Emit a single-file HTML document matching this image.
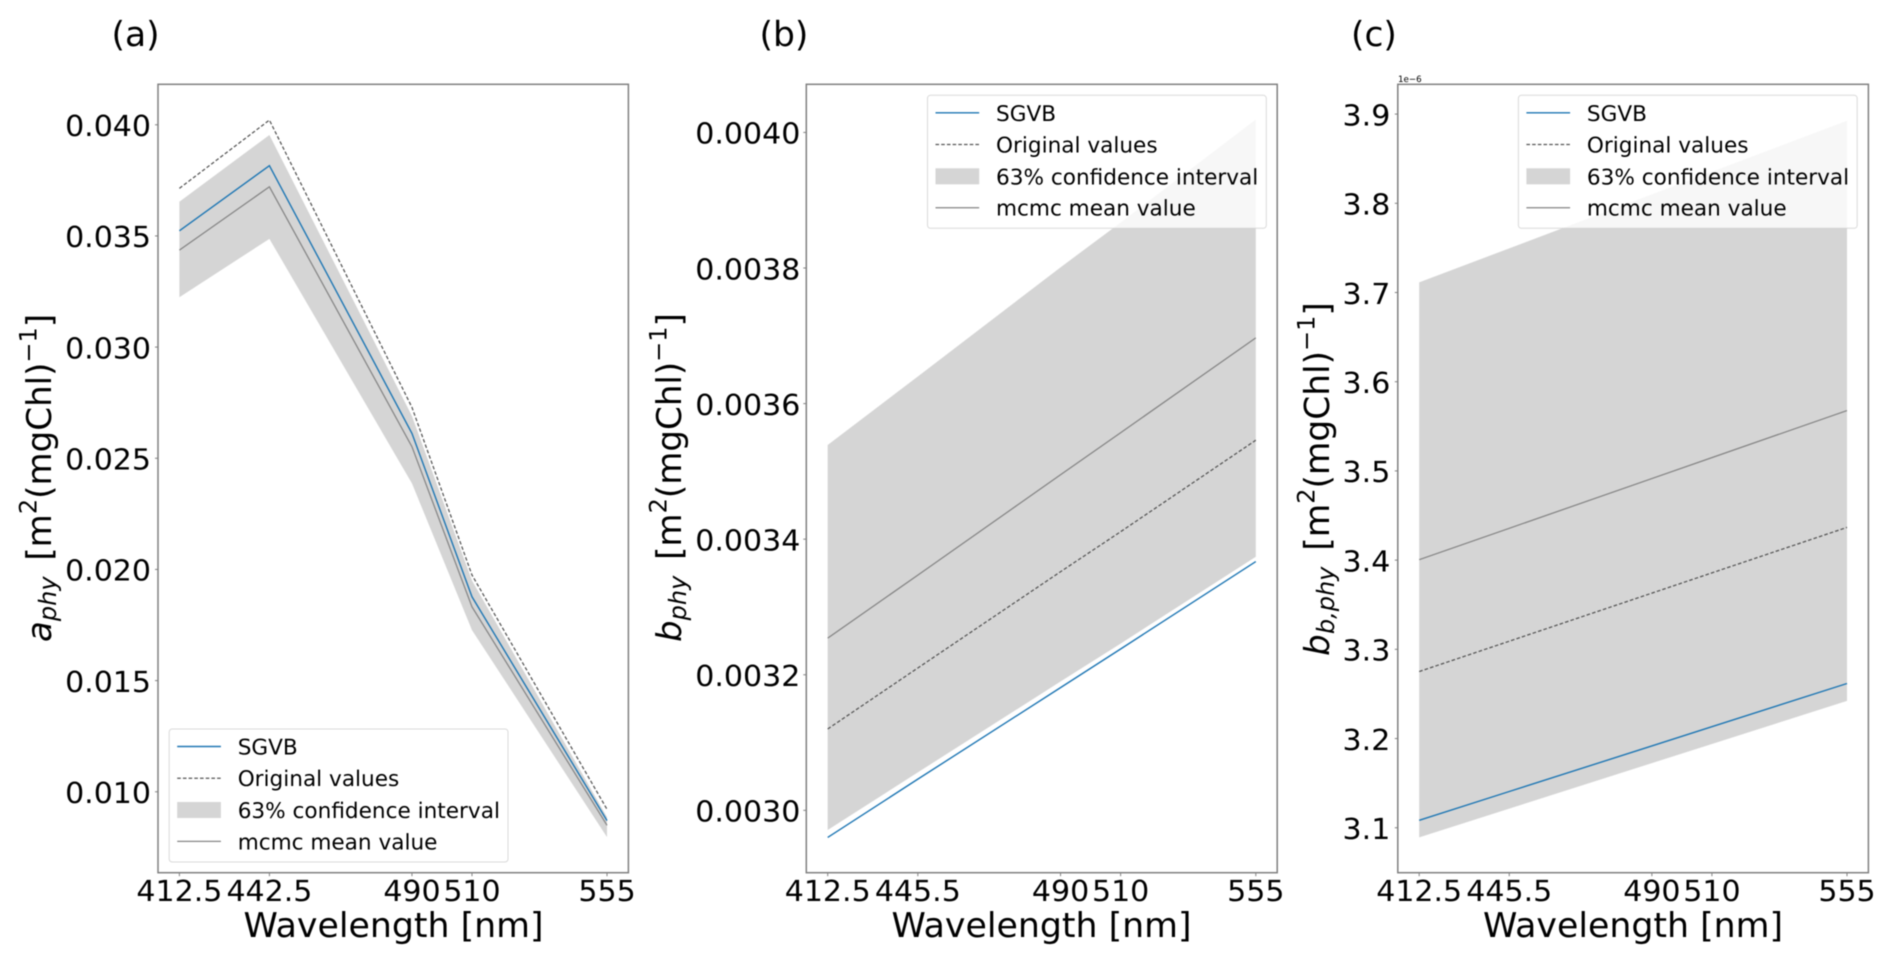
<!DOCTYPE html>
<html lang="en">
<head>
<meta charset="utf-8">
<title>Wavelength spectra of phytoplankton coefficients</title>
<style>
  html, body { margin: 0; padding: 0; background: #fff; }
  body { width: 1892px; height: 964px; overflow: hidden; }
  svg { display: block; filter: blur(0.4px); }
  text { font-family: "DejaVu Sans", "Liberation Sans", sans-serif; fill: #000; text-rendering: geometricPrecision; }
</style>
</head>
<body>
<svg id="figure" xmlns="http://www.w3.org/2000/svg" width="1892" height="964" viewBox="0 0 1892 964">
  <rect x="0" y="0" width="1892" height="964" fill="#fff"/>
  <g id="panel-a"></g>
  <g id="panel-b"></g>
  <g id="panel-c"></g>

  <text x="111.5" y="46" font-size="34.5">(a)</text>
  <text x="759.5" y="46" font-size="34.5">(b)</text>
  <text x="1351" y="46" font-size="34.5">(c)</text>

  <text transform="translate(51,642) rotate(-90)" font-size="34.1"><tspan font-style="italic">a</tspan><tspan font-style="italic" font-size="24" dy="5">phy</tspan><tspan dy="-5" dx="5"> [m</tspan><tspan font-size="24" dy="-14.5">2</tspan><tspan dy="14.5">(mgChl)</tspan><tspan font-size="24" dy="-14.5">−1</tspan><tspan dy="14.5">]</tspan></text>
  <text transform="translate(681,642) rotate(-90)" font-size="34.1"><tspan font-style="italic">b</tspan><tspan font-style="italic" font-size="24" dy="5">phy</tspan><tspan dy="-5" dx="5"> [m</tspan><tspan font-size="24" dy="-14.5">2</tspan><tspan dy="14.5">(mgChl)</tspan><tspan font-size="24" dy="-14.5">−1</tspan><tspan dy="14.5">]</tspan></text>
  <text transform="translate(1329,656) rotate(-90)" font-size="34.4"><tspan font-style="italic">b</tspan><tspan font-style="italic" font-size="24" dy="5">b,phy</tspan><tspan dy="-5" dx="5"> [m</tspan><tspan font-size="24" dy="-14.5">2</tspan><tspan dy="14.5">(mgChl)</tspan><tspan font-size="24" dy="-14.5">−1</tspan><tspan dy="14.5">]</tspan></text>

  <text transform="translate(393.5,937) scale(1.016,1)" font-size="34.2" text-anchor="middle">Wavelength [nm]</text>
  <text transform="translate(1041.5,937) scale(1.016,1)" font-size="34.2" text-anchor="middle">Wavelength [nm]</text>
  <text transform="translate(1633,937) scale(1.016,1)" font-size="34.2" text-anchor="middle">Wavelength [nm]</text>

  <text x="1398" y="82" font-size="8.7">1e−6</text>
</svg>

<script>
const wavelengths = [412.5, 442.5, 490, 510, 555];
const xTickLabelsA = ["412.5", "442.5", "490", "510", "555"];
const xTickLabelsB = ["412.5", "445.5", "490", "510", "555"];
const xTickLabelsC = ["412.5", "445.5", "490", "510", "555"];

const yTicksA = [0.010, 0.015, 0.020, 0.025, 0.030, 0.035, 0.040];
const yTickLabelsA = ["0.010", "0.015", "0.020", "0.025", "0.030", "0.035", "0.040"];
const sgvbA = [0.03523, 0.03816, 0.02612, 0.01877, 0.00870];
const originalA = [0.03714, 0.04021, 0.02729, 0.01975, 0.00921];
const mcmcA = [0.03436, 0.03721, 0.02552, 0.01832, 0.00849];
const upperA = [0.03654, 0.03954, 0.02690, 0.01950, 0.00886];
const lowerA = [0.03224, 0.03487, 0.02387, 0.01727, 0.00796];

const yTicksB = [0.0030, 0.0032, 0.0034, 0.0036, 0.0038, 0.0040];
const yTickLabelsB = ["0.0030", "0.0032", "0.0034", "0.0036", "0.0038", "0.0040"];
const sgvbB = [0.002960, 0.003046, 0.003181, 0.003238, 0.003367];
const originalB = [0.003120, 0.003210, 0.003352, 0.003411, 0.003546];
const mcmcB = [0.003254, 0.003347, 0.003495, 0.003557, 0.003697];
const upperB = [0.003539, 0.003640, 0.003801, 0.003867, 0.004019];
const lowerB = [0.002971, 0.003056, 0.003190, 0.003246, 0.003374];

const yTicksC = [3.1, 3.2, 3.3, 3.4, 3.5, 3.6, 3.7, 3.8, 3.9];
const yTickLabelsC = ["3.1", "3.2", "3.3", "3.4", "3.5", "3.6", "3.7", "3.8", "3.9"];
const sgvbC = [3.1083, 3.1406, 3.1917, 3.2133, 3.2617];
const originalC = [3.2751, 3.3091, 3.3630, 3.3857, 3.4367];
const mcmcC = [3.4005, 3.4357, 3.4914, 3.5149, 3.5677];
const upperC = [3.7114, 3.7495, 3.8100, 3.8354, 3.8926];
const lowerC = [3.0892, 3.1214, 3.1724, 3.1939, 3.2422];

const legendLabels = ["SGVB", "Original values", "63% confidence interval", "mcmc mean value"];

const SVG_NS = "http://www.w3.org/2000/svg";
const BLUE = "#1f77b4";
const DARK = "#555555";
const GREY = "#858585";
const BAND = "#d5d5d5";
const SPINE = "#808080";

function make(tag, attrs, parent) {
  const el = document.createElementNS(SVG_NS, tag);
  for (const k in attrs) el.setAttribute(k, attrs[k]);
  parent.appendChild(el);
  return el;
}

function drawPanel(id, box, yDomain, series, yTicks, yTickLabels, xTickLabels, legendBox, tickPad) {
  const g = document.getElementById(id);
  const xMin = wavelengths[0];
  const xMax = wavelengths[wavelengths.length - 1];
  const margin = (xMax - xMin) * 0.05;
  const x = function (v) {
    return box.left + (v - (xMin - margin)) / (xMax - xMin + 2 * margin) * (box.right - box.left);
  };
  const y = function (v) {
    return box.bottom - (v - yDomain[0]) / (yDomain[1] - yDomain[0]) * (box.bottom - box.top);
  };
  const path = function (values) {
    return values.map(function (v, i) {
      return (i ? "L" : "M") + x(wavelengths[i]).toFixed(2) + " " + y(v).toFixed(2);
    }).join(" ");
  };

  // confidence band
  const bandTop = series.upper.map(function (v, i) {
    return x(wavelengths[i]).toFixed(2) + "," + y(v).toFixed(2);
  });
  const bandBottom = series.lower.map(function (v, i) {
    return x(wavelengths[i]).toFixed(2) + "," + y(v).toFixed(2);
  }).reverse();
  const band = make("polygon", { points: bandTop.concat(bandBottom).join(" "), fill: BAND }, g);
  
  

  // series lines
  const sgvbLine = make("path", { d: path(series.sgvb), fill: "none", stroke: BLUE, "stroke-width": 1.4 }, g);
  
  

  const originalLine = make("path", { d: path(series.original), fill: "none", stroke: DARK, "stroke-width": 1.25, "stroke-dasharray": "3.6 2.1" }, g);
  
  

  const mcmcLine = make("path", { d: path(series.mcmc), fill: "none", stroke: GREY, "stroke-width": 1.25 }, g);
  
  

  // axes frame
  const frame = make("rect", { x: box.left, y: box.top, width: box.right - box.left, height: box.bottom - box.top, fill: "none", stroke: SPINE, "stroke-width": 1.5 }, g);
  
  

  // x ticks
  wavelengths.forEach(function (w, i) {
    const px = x(w);
    const tick = make("line", { x1: px, x2: px, y1: box.bottom, y2: box.bottom + 3.5, stroke: SPINE, "stroke-width": 1 }, g);
    
    
    const label = make("text", { transform: "translate(" + px + ",901) scale(1.035,1)", "font-size": 29, "text-anchor": "middle" }, g);
    
    
    label.textContent = xTickLabels[i];
  });

  // y ticks
  yTicks.forEach(function (v, i) {
    const py = y(v);
    const tick = make("line", { x1: box.left - 3, x2: box.left, y1: py, y2: py, stroke: SPINE, "stroke-width": 1 }, g);
    
    
    const label = make("text", { transform: "translate(" + (box.left - tickPad) + "," + (py + 11.3) + ") scale(1.035,1)", "font-size": 29, "text-anchor": "end" }, g);
    
    
    label.textContent = yTickLabels[i];
  });

  // legend
  const legend = make("g", {}, g);
  
  
  const legendFrame = make("rect", { x: legendBox.x, y: legendBox.y, width: legendBox.w, height: 133, rx: 3, ry: 3, fill: "#fff", "fill-opacity": 0.8, stroke: "#d0d0d0", "stroke-opacity": 0.8, "stroke-width": 1 }, legend);
  
  

  const hx1 = legendBox.x + 8;
  const hx2 = hx1 + 43.7;
  const tx = hx1 + 61;
  const rows = [17.5, 49.2, 81, 112.4];
  const row0 = make("line", { x1: hx1, x2: hx2, y1: legendBox.y + rows[0], y2: legendBox.y + rows[0], stroke: BLUE, "stroke-width": 1.4 }, legend);
  
  
  const row1 = make("line", { x1: hx1, x2: hx2, y1: legendBox.y + rows[1], y2: legendBox.y + rows[1], stroke: DARK, "stroke-width": 1.25, "stroke-dasharray": "3.6 2.1" }, legend);
  
  
  const row2 = make("rect", { x: hx1, y: legendBox.y + rows[2] - 8, width: hx2 - hx1, height: 16, fill: BAND }, legend);
  
  
  const row3 = make("line", { x1: hx1, x2: hx2, y1: legendBox.y + rows[3], y2: legendBox.y + rows[3], stroke: GREY, "stroke-width": 1.25 }, legend);
  
  

  legendLabels.forEach(function (txt, i) {
    const t = make("text", { x: tx - 0.5, y: legendBox.y + rows[i] + 8, "font-size": 21.6 }, legend);
    
    
    t.textContent = txt;
  });
}

drawPanel("panel-a",
  { left: 158, right: 628.4, top: 84.3, bottom: 872.7 },
  [0.00636, 0.04182],
  { sgvb: sgvbA, original: originalA, mcmc: mcmcA, upper: upperA, lower: lowerA },
  yTicksA, yTickLabelsA, xTickLabelsA,
  { x: 169.2, y: 729, w: 338.8 }, 7);

drawPanel("panel-b",
  { left: 806.3, right: 1277.2, top: 84.3, bottom: 872.7 },
  [0.002908, 0.004071],
  { sgvb: sgvbB, original: originalB, mcmc: mcmcB, upper: upperB, lower: lowerB },
  yTicksB, yTickLabelsB, xTickLabelsB,
  { x: 927.5, y: 95.3, w: 338.8 }, 6);

drawPanel("panel-c",
  { left: 1397.8, right: 1868.4, top: 84.3, bottom: 872.7 },
  [3.0496, 3.9334],
  { sgvb: sgvbC, original: originalC, mcmc: mcmcC, upper: upperC, lower: lowerC },
  yTicksC, yTickLabelsC, xTickLabelsC,
  { x: 1518.4, y: 95.3, w: 338.8 }, 7.5);
</script>
</body>
</html>
